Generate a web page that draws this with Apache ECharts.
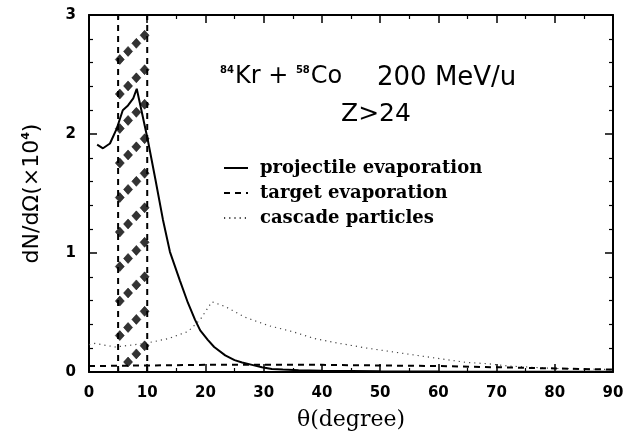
<!DOCTYPE html>
<html><head><meta charset="utf-8">
<script src="https://cdn.jsdelivr.net/npm/echarts/dist/echarts.min.js"></script>
<style>html,body{margin:0;padding:0;background:#fff}#c{width:634px;height:438px}</style>
</head><body><div id="c"></div>
<script>
// ---- data ----
const projAngle = [1.4, 2.4, 3.6, 4.8, 5.8, 6.7, 7.6, 8.2, 9.0, 10.1, 11.4, 12.7, 13.9, 15.6, 17.0, 18.2, 19.1, 20.4, 21.5, 23.4, 25, 26.3, 28, 29.7, 31.4, 33.3, 36, 40, 45, 50, 60, 70, 80, 90];
const projValue = [1.91, 1.88, 1.92, 2.05, 2.20, 2.24, 2.30, 2.38, 2.20, 1.95, 1.62, 1.28, 1.01, 0.77, 0.58, 0.44, 0.35, 0.27, 0.21, 0.14, 0.10, 0.08, 0.06, 0.04, 0.025, 0.02, 0.015, 0.01, 0.008, 0.006, 0.004, 0.003, 0.002, 0.002];
const targetAngle = [0, 10, 20, 30, 40, 50, 60, 70, 80, 90];
const targetValue = [0.05, 0.055, 0.06, 0.06, 0.06, 0.055, 0.05, 0.04, 0.03, 0.02];
const cascadeAngle = [0, 1, 4.5, 9.6, 13.6, 17, 19.1, 21.1, 23.4, 26.8, 30.8, 34.9, 38.8, 41.9, 47.8, 53.4, 59.1, 64.9, 68.4, 72, 80, 90];
const cascadeValue = [0.23, 0.24, 0.21, 0.24, 0.28, 0.34, 0.44, 0.59, 0.55, 0.46, 0.39, 0.34, 0.28, 0.25, 0.20, 0.16, 0.12, 0.08, 0.07, 0.05, 0.03, 0.02];
const bandEdges = [5, 10];      // hatched angular band (degrees)
const xTicks = [0, 10, 20, 30, 40, 50, 60, 70, 80, 90];
const yTicks = [0, 1, 2, 3];
const seriesNames = ['projectile evaporation', 'target evaporation', 'cascade particles'];

const zip = (a, b) => a.map((v, i) => [v, b[i]]);

// hatch pattern of diamonds inside the band (decorative fill)
const hatch = [];
for (let k = 0; k < 10; k++) {
  const yb = 2.83 - 0.29 * k;
  for (let i = 0; i < 4; i++) {
    const x = bandEdges[1] - 0.45 - i * 1.42;
    const y = yb - i * 0.068;
    if (y > 0.04 && y < 2.95 && x > bandEdges[0]) hatch.push([x, y]);
  }
}

const chart = echarts.init(document.getElementById('c'), null, {renderer: 'canvas'});
const tickFont = {fontFamily: 'DejaVu Sans', fontWeight: 'bold', fontSize: 15, color: '#000'};
const baseAxis = {
  axisLine: {show: true, onZero: false, lineStyle: {color: '#000', width: 2}},
  axisTick: {show: true, inside: true, length: 8, lineStyle: {color: '#000', width: 1.5}},
  minorTick: {show: true, length: 4, lineStyle: {color: '#000', width: 1.2}},
  splitLine: {show: false}
};
const option = {
  animation: false,
  backgroundColor: '#fff',
  grid: {left: 89, right: 21, top: 15, bottom: 66},
  xAxis: [
    Object.assign({}, baseAxis, {type: 'value', position: 'bottom', min: xTicks[0], max: xTicks[xTicks.length-1], interval: 10,
      minorTick: Object.assign({}, baseAxis.minorTick, {splitNumber: 2}),
      axisLabel: Object.assign({margin: 14}, tickFont),
      name: 'θ(degree)', nameLocation: 'middle', nameGap: 37,
      nameTextStyle: {fontFamily: 'DejaVu Serif', fontSize: 22, color: '#000'}}),
    Object.assign({}, baseAxis, {type: 'value', position: 'top', min: 0, max: 90, interval: 10,
      minorTick: Object.assign({}, baseAxis.minorTick, {splitNumber: 2}),
      axisLabel: {show: false}})
  ],
  yAxis: [
    Object.assign({}, baseAxis, {type: 'value', position: 'left', min: yTicks[0], max: yTicks[yTicks.length-1], interval: 1,
      minorTick: Object.assign({}, baseAxis.minorTick, {splitNumber: 5}),
      axisLabel: Object.assign({margin: 13}, tickFont),
      name: 'dN/dΩ(×10{s|4})', nameLocation: 'middle', nameGap: 45,
      nameTextStyle: {fontFamily: 'DejaVu Sans', fontSize: 22, color: '#000',
        rich: {s: {fontFamily: 'DejaVu Sans', fontWeight: 'bold', fontSize: 11, verticalAlign: 'top', padding: [0,0,12,0], color: '#000'}}}}),
    Object.assign({}, baseAxis, {type: 'value', position: 'right', min: 0, max: 3, interval: 1,
      minorTick: Object.assign({}, baseAxis.minorTick, {splitNumber: 5}),
      axisLabel: {show: false}})
  ],
  legend: {
    orient: 'vertical', left: 218, top: 154, itemGap: 7, itemWidth: 24, itemHeight: 14,
    data: seriesNames,
    itemStyle: {opacity: 0},
    textStyle: {fontFamily: 'DejaVu Serif', fontWeight: 'bold', fontSize: 18, color: '#000', padding: [0, 0, 0, 7]}
  },
  graphic: [
    {type: 'text', left: 220, top: 65, style: {
      text: '{s|84}Kr + {s|58}Co', fill: '#000',
      font: '24px "DejaVu Sans"',
      rich: {s: {fontSize: 10, fontWeight: 'bold', fontFamily: 'DejaVu Sans', verticalAlign: 'top', padding: [0, 1, 13, 0]}}}},
    {type: 'text', left: 377, top: 65, style: {text: '200 MeV/u', fill: '#000', font: '26px "DejaVu Sans"'}},
    {type: 'text', left: 341, top: 102, style: {text: 'Z>24', fill: '#000', font: '25px "DejaVu Sans"'}}
  ],
  series: [
    {name: seriesNames[0], type: 'line', data: zip(projAngle, projValue), showSymbol: false, symbol: 'none',
      lineStyle: {color: '#000', width: 2}, itemStyle: {color: '#000'}, z: 5},
    {name: seriesNames[1], type: 'line', data: zip(targetAngle, targetValue), showSymbol: false, symbol: 'none',
      lineStyle: {color: '#000', width: 2, type: [6, 5]}, itemStyle: {color: '#000'}, z: 4},
    {name: seriesNames[2], type: 'line', data: zip(cascadeAngle, cascadeValue), showSymbol: false, symbol: 'none',
      lineStyle: {color: '#444', width: 1.2, type: [1.2, 4]}, itemStyle: {color: '#444'}, z: 3},
    {name: 'bandLeft', type: 'line', data: [[bandEdges[0], 0], [bandEdges[0], 3]], symbol: 'none',
      lineStyle: {color: '#000', width: 2, type: [6, 5]}, z: 4},
    {name: 'bandRight', type: 'line', data: [[bandEdges[1], 0], [bandEdges[1], 3]], symbol: 'none',
      lineStyle: {color: '#000', width: 2, type: [6, 5]}, z: 4},
    {name: 'hatch', type: 'scatter', data: hatch, symbol: 'diamond', symbolSize: [9, 10],
      itemStyle: {color: '#000', borderColor: '#000', borderWidth: 0.6}, z: 4}
  ]
};
chart.setOption(option);
</script>
</body></html>
